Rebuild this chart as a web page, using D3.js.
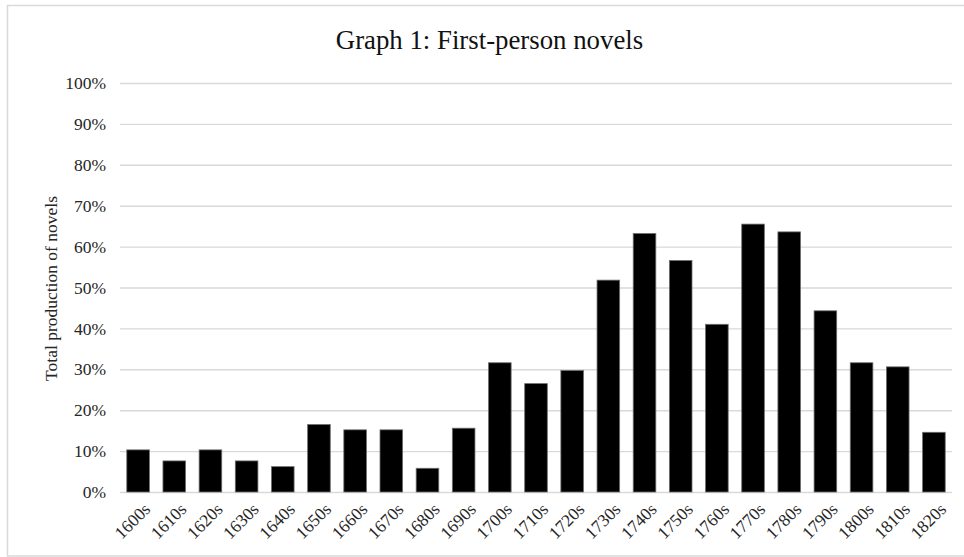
<!DOCTYPE html>
<html>
<head>
<meta charset="utf-8">
<script src="https://cdn.jsdelivr.net/npm/d3@7"></script>
<style>
  html, body { margin: 0; padding: 0; background: #fff; }
  svg { display: block; }
  text { font-family: "Liberation Serif", "Times New Roman", serif; }
</style>
</head>
<body>
<svg id="chart" width="964" height="557"></svg>
<script>
// Share of first-person novels in total production, by decade
const decades = ["1600s","1610s","1620s","1630s","1640s","1650s","1660s","1670s","1680s","1690s",
                 "1700s","1710s","1720s","1730s","1740s","1750s","1760s","1770s","1780s","1790s",
                 "1800s","1810s","1820s"];
const shares = [0.103, 0.076, 0.103, 0.076, 0.062, 0.165, 0.152, 0.152, 0.058, 0.156,
                0.316, 0.265, 0.297, 0.518, 0.632, 0.566, 0.410, 0.655, 0.636, 0.443,
                0.316, 0.306, 0.146];
const yTicks = [0, 0.1, 0.2, 0.3, 0.4, 0.5, 0.6, 0.7, 0.8, 0.9, 1.0];

const chartTitle = "Graph 1: First-person novels";
const yTitle = "Total production of novels";

const W = 964, H = 557;
const plot = { left: 120, right: 952, top: 83, bottom: 492 };

const svg = d3.select("#chart");

// Chart frame
svg.append("rect")
  .attr("x", 7.5).attr("y", 5.5)
  .attr("width", W + 10).attr("height", 550.5)
  .attr("fill", "#fff")
  .attr("stroke", "#d9d9d9")
  .attr("stroke-width", 1.5);

const x = d3.scaleBand()
  .domain(decades)
  .range([plot.left, plot.right])
  .paddingInner(0.375)
  .paddingOuter(0.1875);

const y = d3.scaleLinear()
  .domain([0, 1])
  .range([plot.bottom, plot.top]);

// Horizontal gridlines + percentage labels
const yAxis = d3.axisLeft(y)
  .tickValues(yTicks)
  .tickFormat(d3.format(".0%"))
  .tickSize(-(plot.right - plot.left))
  .tickPadding(14);

const gy = svg.append("g")
  .attr("transform", `translate(${plot.left},0)`)
  .call(yAxis);
gy.select(".domain").remove();
gy.selectAll(".tick line")
  .attr("stroke", "#d9d9d9")
  .attr("stroke-width", 1.4);
gy.selectAll(".tick text")
  .attr("fill", "#262626")
  .style("font-size", "17.5px");

// Bars
svg.append("g")
  .selectAll("rect")
  .data(decades.map((d, i) => ({ decade: d, value: shares[i] })))
  .join("rect")
  .attr("x", d => x(d.decade))
  .attr("y", d => y(d.value))
  .attr("width", x.bandwidth())
  .attr("height", d => y(0) - y(d.value))
  .attr("fill", "#000")
  .attr("stroke", "#6e6e6e")
  .attr("stroke-width", 0.8);

// Category labels, rotated
const xAxis = d3.axisBottom(x).tickSize(0).tickPadding(0);
const gx = svg.append("g")
  .attr("transform", `translate(0,${plot.bottom})`)
  .call(xAxis);
gx.select(".domain").remove();
gx.selectAll(".tick text")
  .attr("fill", "#262626")
  .style("font-size", "17.5px")
  .attr("text-anchor", "end")
  .attr("dy", null)
  .attr("y", null)
  .attr("transform", "translate(9,14) rotate(-45)")
  .attr("dy", "0.35em");

// Title
svg.append("text")
  .attr("x", 489.5)
  .attr("y", 49)
  .attr("text-anchor", "middle")
  .attr("fill", "#111")
  .style("font-size", "26.8px")
  .text(chartTitle);

// Y axis title
svg.append("text")
  .attr("transform", `translate(57,288.5) rotate(-90)`)
  .attr("text-anchor", "middle")
  .attr("fill", "#262626")
  .style("font-size", "17.5px")
  .text(yTitle);
</script>
</body>
</html>
